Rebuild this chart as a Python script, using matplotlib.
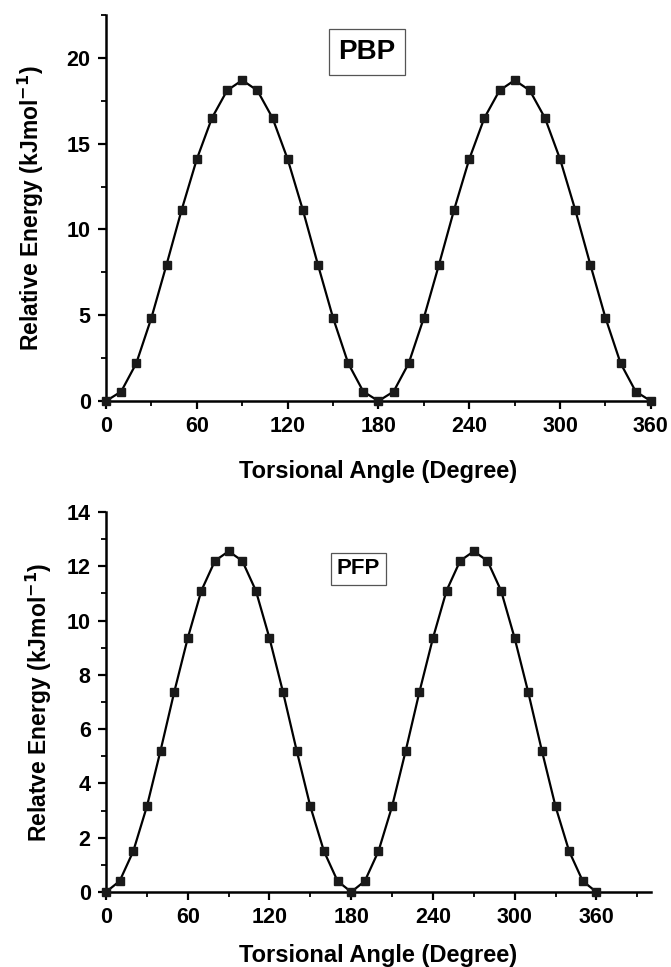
import numpy as np
import matplotlib.pyplot as plt
from matplotlib.ticker import MultipleLocator

# torsional angle grid (degree)
angle = list(range(0, 370, 10))

# relative energies (kJ/mol)
pbp_half = [0, 0.55, 2.2, 4.85, 7.95, 11.15, 14.1, 16.5, 18.1, 18.7,
            18.1, 16.5, 14.1, 11.15, 7.95, 4.85, 2.2, 0.55, 0]
pfp_half = [0, 0.4, 1.5, 3.15, 5.2, 7.35, 9.35, 11.1, 12.2, 12.55,
            12.2, 11.1, 9.35, 7.35, 5.2, 3.15, 1.5, 0.4, 0]
pbp_energy = pbp_half + pbp_half[1:]
pfp_energy = pfp_half + pfp_half[1:]

x_ticks = [0, 60, 120, 180, 240, 300, 360]

plt.rcParams['font.family'] = ['Liberation Sans', 'DejaVu Sans']
plt.rcParams['font.weight'] = 'bold'
plt.rcParams['axes.linewidth'] = 1.8

fig = plt.figure(figsize=(6.71, 9.67), dpi=100)


def style_axes(ax):
    for s in ['top', 'right']:
        ax.spines[s].set_visible(False)
    ax.tick_params(axis='both', which='major', direction='out', length=6, width=1.6,
                   labelsize=15.5, pad=5)
    ax.tick_params(axis='both', which='minor', direction='out', length=3.5, width=1.3)


# ---- top panel: PBP
ax1 = fig.add_axes([0.158, 0.5853, 0.812, 0.3992])
ax1.plot(angle, pbp_energy, color='black', lw=1.6, marker='s', ms=6.3,
         mfc='#1a1a1a', mec='#1a1a1a', clip_on=False, zorder=3)
ax1.set_xlim(0, 360)
ax1.set_ylim(0, 22.5)
ax1.set_xticks(x_ticks)
ax1.xaxis.set_minor_locator(MultipleLocator(30))
ax1.yaxis.set_major_locator(MultipleLocator(5))
ax1.yaxis.set_minor_locator(MultipleLocator(2.5))
ax1.set_xlabel('Torsional Angle (Degree)', fontsize=17, fontweight='bold', labelpad=16)
ax1.set_ylabel(r'Relative Energy (kJmol$^{\mathbf{-1}}$)', fontsize=16.5,
               fontweight='bold', labelpad=15)
ax1.text(0.479, 0.904, 'PBP', transform=ax1.transAxes, fontsize=20, fontweight='bold',
         ha='center', va='center',
         bbox=dict(boxstyle='square,pad=0.35', fc='white', ec='#555555', lw=0.9))
style_axes(ax1)

# ---- bottom panel: PFP
ax2 = fig.add_axes([0.158, 0.0776, 0.812, 0.393])
ax2.plot(angle, pfp_energy, color='black', lw=1.6, marker='s', ms=6.3,
         mfc='#1a1a1a', mec='#1a1a1a', clip_on=False, zorder=3)
ax2.set_xlim(0, 400)
ax2.set_ylim(0, 14)
ax2.set_xticks(x_ticks)
ax2.xaxis.set_minor_locator(MultipleLocator(30))
ax2.yaxis.set_major_locator(MultipleLocator(2))
ax2.yaxis.set_minor_locator(MultipleLocator(1))
ax2.set_xlabel('Torsional Angle (Degree)', fontsize=17, fontweight='bold', labelpad=11)
ax2.set_ylabel(r'Relatve Energy (kJmol$^{\mathbf{-1}}$)', fontsize=16.5,
               fontweight='bold', labelpad=9)
ax2.text(0.463, 0.85, 'PFP', transform=ax2.transAxes, fontsize=16, fontweight='bold',
         ha='center', va='center',
         bbox=dict(boxstyle='square,pad=0.25', fc='white', ec='#555555', lw=0.9))
style_axes(ax2)

fig.savefig('out.png', dpi=100)
